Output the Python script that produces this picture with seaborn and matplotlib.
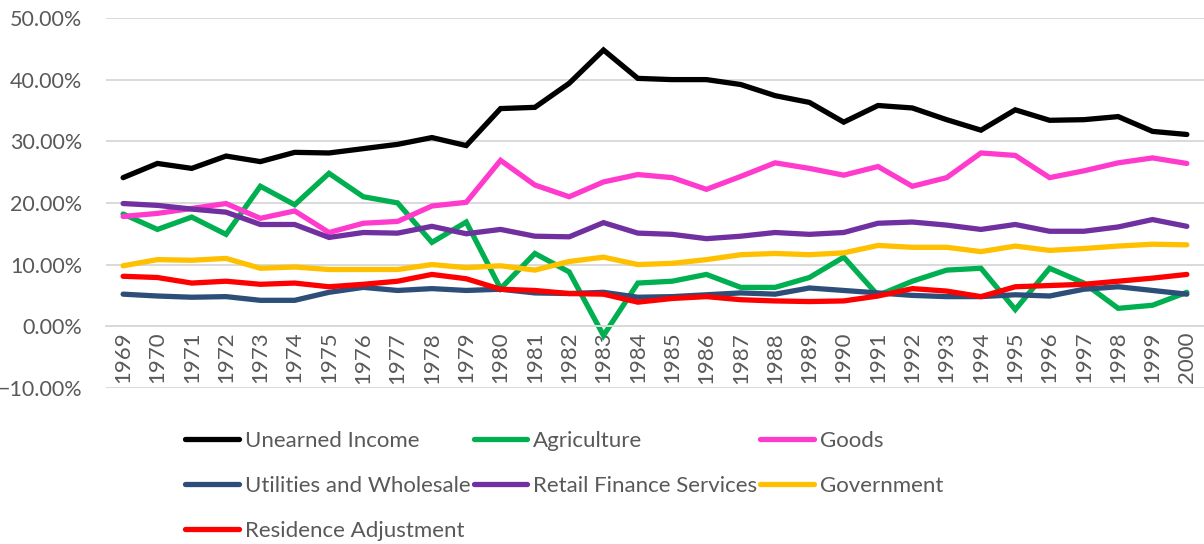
import numpy as np
import pandas as pd
import matplotlib
matplotlib.use("Agg")
import matplotlib.pyplot as plt
import seaborn as sns
from matplotlib.ticker import PercentFormatter

years = list(range(1969, 2001))

unearned_income = [24.1, 26.4, 25.6, 27.6, 26.7, 28.2, 28.1, 28.8, 29.5, 30.6, 29.3,
                   35.3, 35.5, 39.4, 44.8, 40.2, 40.0, 40.0, 39.2, 37.4, 36.3, 33.1,
                   35.8, 35.4, 33.5, 31.8, 35.1, 33.4, 33.5, 34.0, 31.6, 31.1]
agriculture = [18.2, 15.7, 17.7, 14.9, 22.7, 19.7, 24.8, 21.0, 20.0, 13.6, 16.9,
               6.1, 11.8, 8.8, -1.5, 7.0, 7.3, 8.4, 6.3, 6.3, 7.9, 11.2,
               5.0, 7.3, 9.1, 9.4, 2.7, 9.4, 7.0, 2.9, 3.4, 5.5]
goods = [17.8, 18.3, 19.1, 19.9, 17.5, 18.7, 15.2, 16.7, 17.0, 19.5, 20.1,
         26.9, 22.9, 21.0, 23.4, 24.6, 24.1, 22.2, 24.3, 26.5, 25.6, 24.5,
         25.9, 22.7, 24.1, 28.1, 27.7, 24.1, 25.2, 26.5, 27.3, 26.4]
utilities_wholesale = [5.2, 4.9, 4.7, 4.8, 4.2, 4.2, 5.5, 6.3, 5.8, 6.1, 5.8,
                       6.0, 5.4, 5.3, 5.5, 4.7, 4.8, 5.1, 5.4, 5.2, 6.2, 5.8,
                       5.4, 5.0, 4.8, 4.8, 5.1, 4.9, 6.0, 6.4, 5.8, 5.2]
retail_finance_services = [19.9, 19.6, 19.0, 18.5, 16.5, 16.5, 14.4, 15.2, 15.1, 16.2, 15.0,
                           15.7, 14.6, 14.5, 16.8, 15.1, 14.9, 14.2, 14.6, 15.2, 14.9, 15.2,
                           16.7, 16.9, 16.4, 15.7, 16.5, 15.4, 15.4, 16.1, 17.3, 16.2]
government = [9.8, 10.8, 10.7, 11.0, 9.4, 9.6, 9.2, 9.2, 9.2, 10.0, 9.5,
              9.8, 9.1, 10.5, 11.2, 10.0, 10.2, 10.8, 11.6, 11.8, 11.6, 11.9,
              13.1, 12.8, 12.8, 12.1, 13.0, 12.3, 12.6, 13.0, 13.3, 13.2]
residence_adjustment = [8.1, 7.9, 7.0, 7.3, 6.8, 7.0, 6.4, 6.8, 7.3, 8.4, 7.7,
                        6.0, 5.8, 5.3, 5.2, 3.9, 4.5, 4.8, 4.3, 4.1, 4.0, 4.1,
                        4.9, 6.1, 5.7, 4.8, 6.4, 6.6, 6.8, 7.3, 7.8, 8.4]

series = {
    "Unearned Income": unearned_income,
    "Agriculture": agriculture,
    "Goods": goods,
    "Utilities and Wholesale": utilities_wholesale,
    "Retail Finance Services": retail_finance_services,
    "Government": government,
    "Residence Adjustment": residence_adjustment,
}
palette = {
    "Unearned Income": "#000000",
    "Agriculture": "#00B050",
    "Goods": "#FF3BCE",
    "Utilities and Wholesale": "#2E4E7A",
    "Retail Finance Services": "#7030A0",
    "Government": "#FFC000",
    "Residence Adjustment": "#FF0000",
}

df = pd.DataFrame(
    [(y, name, v) for name, vals in series.items() for y, v in zip(years, vals)],
    columns=["Year", "Series", "Value"],
)

sns.set_theme(style="white")
plt.rcParams["font.family"] = ["Lato", "DejaVu Sans"]
text_color = "#595959"
grid_color = "#D9D9D9"

fig = plt.figure(figsize=(12.04, 5.44), dpi=100)
ax = fig.add_axes([0.088, 0.287, 0.912, 0.680])

sns.lineplot(data=df, x="Year", y="Value", hue="Series", palette=palette,
             hue_order=list(series.keys()), linewidth=3.8, ax=ax,
             legend=False, solid_capstyle="round", solid_joinstyle="miter")

ax.set_ylim(-10, 50)
ax.set_xlim(1968.5, 2000.5)
ax.set_xlabel("")
ax.set_ylabel("")

ax.grid(axis="y", color=grid_color, linewidth=1.4)
ax.set_axisbelow(True)
for side in ["top", "right", "left"]:
    ax.spines[side].set_visible(False)
# category axis crosses the value axis at zero
ax.spines["bottom"].set_position(("data", 0))
ax.spines["bottom"].set_color(grid_color)
ax.spines["bottom"].set_linewidth(1.4)

ax.set_yticks(np.arange(-10, 51, 10))
ax.yaxis.set_major_formatter(PercentFormatter(decimals=2))
ax.set_xticks(years)
ax.set_xticklabels([str(y) for y in years])
ax.tick_params(axis="both", length=0, colors=text_color)
ax.tick_params(axis="y", pad=17, labelsize=15.5)
ax.tick_params(axis="x", pad=4, labelsize=16, labelrotation=90)

handles = [plt.Line2D([], [], color=palette[n], linewidth=3.8, solid_capstyle="round")
           for n in series]
names = list(series.keys())
order = [0, 3, 6, 1, 4, 2, 5]
leg = fig.legend([handles[i] for i in order], [names[i] for i in order],
                 ncol=3, loc="upper left", bbox_to_anchor=(0.154, 0.208),
                 frameon=False, fontsize=16, handlelength=2.4, handletextpad=0.27,
                 columnspacing=0.15, labelspacing=1.12, borderpad=0, borderaxespad=0)
for t in leg.get_texts():
    t.set_color(text_color)

fig.savefig("out.png", dpi=100)
